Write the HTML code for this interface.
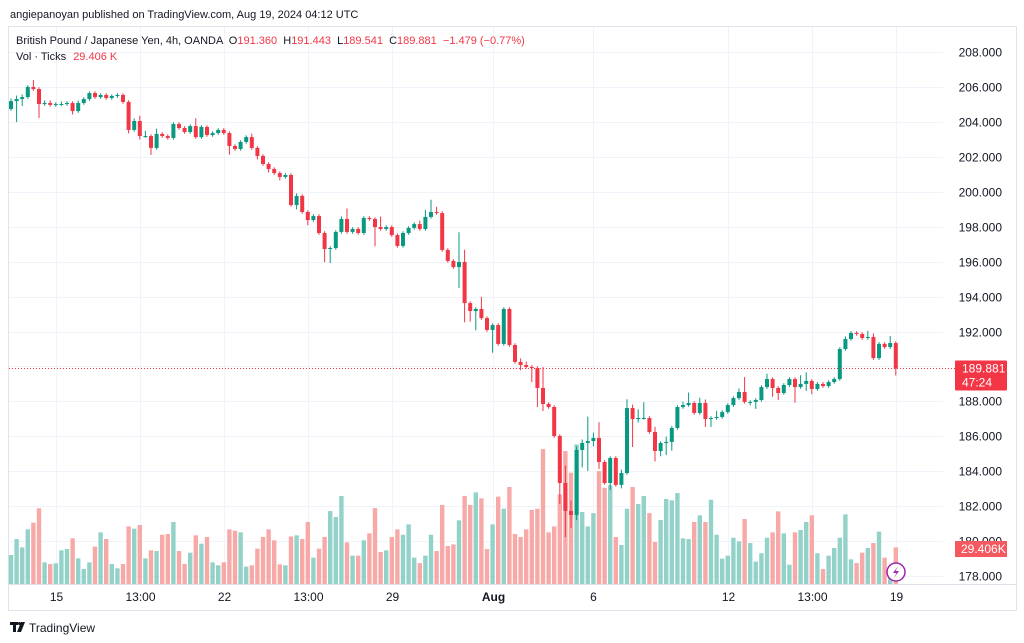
<!DOCTYPE html>
<html><head><meta charset="utf-8"><style>
body{margin:0;background:#fff;font-family:"Liberation Sans",sans-serif;}
#wrap{position:relative;width:1024px;height:643px;overflow:hidden;background:#fff;}
svg text{font-family:"Liberation Sans",sans-serif;}
</style></head><body>
<div id="wrap">
<svg id="chart" width="1024" height="643" viewBox="0 0 1024 643">
<text x="10" y="18" font-size="11" fill="#131722">angiepanoyan published on TradingView.com, Aug 19, 2024 04:12 UTC</text>
<rect x="8.5" y="26.5" width="1008" height="584" fill="none" stroke="#e0e3eb"/>
<g id="grid"></g>
<g id="vols"></g>
<g id="candles"></g>
<g id="axes"></g>
<text x="16" y="44" font-size="11" fill="#131722" xml:space="preserve">British Pound / Japanese Yen, 4h, OANDA  O<tspan fill="#f23645">191.360</tspan>  H<tspan fill="#f23645">191.443</tspan>  L<tspan fill="#f23645">189.541</tspan>  C<tspan fill="#f23645">189.881  −1.479 (−0.77%)</tspan></text>
<text x="16" y="60" font-size="11" fill="#131722">Vol · Ticks <tspan fill="#f23645" dx="4">29.406 K</tspan></text>
<g>
<circle cx="896" cy="572" r="9" fill="#fff" stroke="#9c27b0" stroke-width="1.5"/>
<path d="M898 566 L893 573 L896.5 573 L894 578 L899 571 L895.5 571 Z" fill="#9c27b0"/>
</g>
<g>
<rect x="10" y="622" width="8" height="3" fill="#131722"/><rect x="13" y="622" width="3" height="10" fill="#131722"/><path d="M21 622 L25 622 L21 632 L17 632 Z" fill="#131722"/><circle cx="19.5" cy="623.5" r="1.5" fill="#131722"/>
<text x="29" y="632" font-size="12" fill="#131722">TradingView</text>
</g>
</svg>
</div>
<script>
const firstOpen = 204.74;
const closes = [205.19,205.31,205.42,206.00,205.88,205.02,205.08,204.97,205.02,205.02,
205.08,204.62,205.08,205.31,205.65,205.42,205.54,205.37,205.48,205.54,
205.14,203.54,204.05,203.19,203.19,202.51,203.31,203.19,203.08,203.88,
203.65,203.42,203.76,203.13,203.71,203.25,203.36,203.54,203.36,202.62,
202.45,202.85,203.13,202.51,202.05,201.59,201.30,201.07,200.85,200.96,
199.24,199.76,198.84,198.38,198.61,197.64,196.72,196.78,197.70,198.44,
197.70,197.87,197.64,198.50,198.44,197.98,197.87,197.98,197.52,196.90,
197.64,197.93,198.15,197.87,198.56,198.84,198.78,196.67,196.04,195.69,
195.98,193.63,193.17,193.29,192.77,192.09,192.37,191.29,193.29,191.23,
190.26,190.08,189.97,189.91,188.77,187.85,187.68,186.02,183.33,181.73,
181.50,185.22,185.62,185.73,185.91,184.53,183.33,184.76,183.22,183.90,
187.62,186.99,187.05,187.05,186.25,185.16,185.62,185.68,186.48,187.68,
187.79,187.91,187.34,187.91,186.99,187.05,187.11,187.39,187.79,188.19,
188.54,187.97,187.97,188.08,188.82,189.28,188.77,188.48,188.94,189.28,
188.82,189.00,189.17,188.71,189.00,188.88,189.11,189.28,191.00,191.57,
191.92,191.86,191.63,191.69,190.48,191.29,191.11,191.34,189.881];
const highExt = [.15,.2,.15,.1,.4,.1,.15,.15,.1,.15,
.1,.1,.15,.1,.1,.1,.1,.1,.1,.1,
.1,.1,.15,.3,.3,.1,.3,.1,.1,.1,
.1,.1,.1,.45,.1,.1,.1,.1,.1,.1,
.1,.1,.1,.2,.1,.1,.1,.1,.1,.1,
.1,.15,.1,.1,.1,.1,.1,.1,.1,.15,
.6,.1,.1,.1,.1,.1,.6,.1,.1,.1,
.1,.1,.1,.2,.4,.7,.3,.1,.1,.1,
1.7,.7,.1,.1,.7,.1,.1,.1,.1,.1,
.1,.2,.2,.1,.1,1.2,.1,.1,.1,1.0,
.6,.2,.2,1.4,.3,.9,.1,.1,.1,.2,
.5,.2,.5,.9,.1,.3,.1,.3,.1,.1,
.2,.6,.1,.3,.2,.1,.35,.1,.1,.1,
.2,.85,.1,.1,.1,.3,.1,.1,.1,.1,
.1,.5,.5,.1,.1,.1,.1,.1,.1,.15,
.1,.1,.1,.35,.2,.1,.1,.4,.1];
const lowExt = [.1,1.2,.4,.1,.1,.8,.1,.1,.1,.1,
.1,.2,.1,.1,.1,.1,.1,.1,.1,.1,
.1,.2,.1,.2,.1,.4,.1,.1,.1,.1,
.1,.1,.1,.1,.1,.1,.1,.1,.1,.5,
.1,.1,.1,.1,.2,.1,.2,.1,.2,.1,
.1,.25,.1,.3,.1,.1,.75,.8,.1,.1,
.1,.1,.1,.1,.1,1.1,.1,.1,.1,.1,
.1,.1,.1,.1,.1,.1,.1,.1,.1,.1,
1.2,1.1,.6,1.1,.1,.1,1.3,.1,.1,.1,
.1,.3,.1,.8,1.1,.4,.1,.1,1.2,1.5,
.75,.3,1.0,1.6,.3,.4,.1,.4,.1,.2,
.1,1.6,.2,.1,.1,.6,.3,.7,.5,.1,
.1,.1,.1,.1,.45,.45,.1,.1,.1,.1,
.1,.1,.2,.4,.1,.1,.5,.4,.1,.1,
.9,.1,.4,.3,.1,.1,.1,.1,.1,.1,
.1,.1,.1,.1,.1,.1,.1,.1,.4];
const volumes = [24.4,37.8,30.8,45.9,51.5,63.6,18.2,16.8,17.4,28.3,
29.4,38.4,21.6,12.6,18.2,31.4,43.4,37.8,16.8,13.2,
16.8,48.4,46.5,49.6,21.6,28.3,27.7,41.4,42,52.1,
27.7,16.8,26.3,40.9,33.9,39.5,18.2,15.7,18.2,45.9,
44.8,43.4,14.6,15.7,29.7,39.5,45.9,36.7,16.5,15.7,
40,40.9,37.8,52.1,22.1,29.7,39.5,61.3,56.3,73.9,
35,23.8,23.8,36.7,42.6,63.8,26.9,28.3,39.5,45.9,
41.4,50.1,22.1,17.6,23.8,41.4,27.7,66.4,31.9,33.3,
53.5,73.9,66.4,77,72,29.4,50.1,73.4,63.3,81.5,
42,39.5,45.9,62.2,63.3,113.4,43.4,48.4,75.3,111.7,
93.5,117.3,60.5,48.4,59.6,94.9,80.9,82.9,39.5,32.8,
63.3,81.5,67.2,73.9,59.6,35.3,53.8,71.4,70.3,76.4,
38.4,37.8,52.1,57.7,52.1,70.8,41.4,21.3,23.8,38.9,
35.8,54.6,34.4,18.8,25.8,38.9,43.4,61,42.6,16.2,
43.4,45.4,52.1,57.7,25.8,12.6,23.8,30.2,38.9,58.5,
20.7,17.6,26.3,30.2,34.4,44,22.1,5,30.8];
const priceTicks = [208,206,204,202,200,198,196,194,192,190,188,186,184,182,180,178];
const timeLabels = ["15","13:00","22","13:00","29","Aug","6","12","13:00","19"];
const timeLabelIndex = [8,23,38,53,68,86,104,128,143,158];
const lastPrice = 189.881, lastVolume = 29.406;

const NS="http://www.w3.org/2000/svg";
const X0=11, STEP=5.6, PY0=52, PPX=17.47, VBASE=584, VPX=1.19, PLOT_R=943;
function xScale(i){return X0+STEP*i;}
function yScale(p){return PY0+(208-p)*PPX;}
function vScale(v){return v*VPX;}
function mk(tag,attrs,parent){const e=document.createElementNS(NS,tag);for(const k in attrs)e.setAttribute(k,attrs[k]);parent.appendChild(e);return e;}
const grid=document.getElementById('grid'),vols=document.getElementById('vols'),cg=document.getElementById('candles'),axes=document.getElementById('axes');
priceTicks.forEach(p=>{const y=Math.round(yScale(p))+0.5;
 const l=mk('line',{x1:9,x2:PLOT_R,y1:y,y2:y,stroke:'#f0f3fa'},grid);
 
 
 const t=mk('text',{x:1002,y:y+4,'font-size':12,'text-anchor':'end',fill:'#131722'},axes);
 t.textContent=p.toFixed(3);
 
 
});
timeLabels.forEach((s,k)=>{const x=Math.round(xScale(timeLabelIndex[k]))+0.5;
 const l=mk('line',{x1:x,x2:x,y1:27,y2:VBASE,stroke:'#f0f3fa'},grid);
 
 
 const t=mk('text',{x:x,y:601,'font-size':12,'text-anchor':'middle',fill:'#131722','font-weight':s==='Aug'?'bold':'normal'},axes);
 t.textContent=s;
 
 
});
mk('line',{x1:9,x2:1016,y1:VBASE+0.5,y2:VBASE+0.5,stroke:'#e0e3eb'},axes);
const opens=closes.map((c,i)=>i===0?firstOpen:closes[i-1]);
closes.forEach((c,i)=>{
 const o=opens[i], up=c>=o, x=xScale(i);
 const hi=Math.max(o,c)+highExt[i], lo=Math.min(o,c)-lowExt[i];
 const v=vScale(volumes[i]);
 const vb=mk('rect',{x:x-2.2,y:VBASE-v,width:4.4,height:v,fill:up?'#92d2c9':'#f7a9a7'},vols);
 
 
 const col=up?'#089981':'#f23645';
 const w=mk('line',{x1:x,x2:x,y1:yScale(hi),y2:yScale(lo),stroke:col,'stroke-width':1},cg);
 
 
 const yt=yScale(Math.max(o,c)), yb=yScale(Math.min(o,c));
 const b=mk('rect',{x:x-2,y:yt,width:4,height:Math.max(1,yb-yt),fill:col},cg);
 
 
});
const ly=yScale(lastPrice);
const pl=mk('line',{x1:9,x2:955,y1:ly,y2:ly,stroke:'#f23645','stroke-dasharray':'1 2'},axes);


const pb=mk('rect',{x:955,y:ly-8,width:52,height:30,fill:'#f23645',rx:1},axes);


const pt=mk('text',{x:962,y:ly+4,'font-size':12,fill:'#fff'},axes);pt.textContent=lastPrice.toFixed(3);


const ct=mk('text',{x:962,y:ly+18,'font-size':12,fill:'#fff'},axes);ct.textContent='47:24';


const vy=VBASE-vScale(lastVolume);
const vbx=mk('rect',{x:955,y:vy-8,width:52,height:16,fill:'#f5585e'},axes);


const vt=mk('text',{x:961,y:vy+4,'font-size':12,fill:'#fff'},axes);vt.textContent=lastVolume.toFixed(3)+'K';


</script>
</body></html>
